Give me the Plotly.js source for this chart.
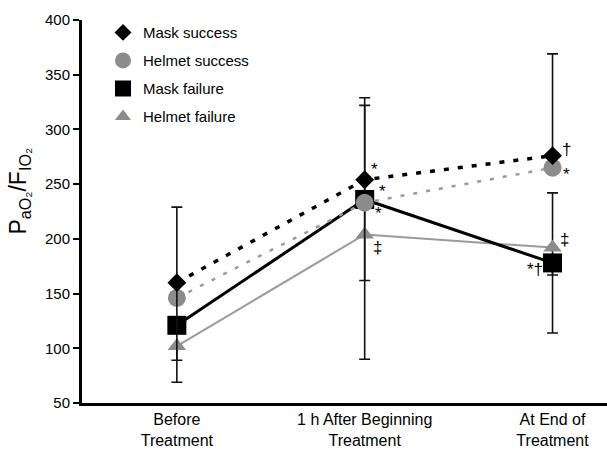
<!DOCTYPE html>
<html>
<head>
<meta charset="utf-8">
<script src="https://cdn.plot.ly/plotly-3.0.1.min.js"></script>
<style>html,body{margin:0;padding:0;background:#fff;}#chart{width:607px;height:449px;}</style>
</head>
<body>
<div id="chart"></div>
<script>
// Data
var categories = ['Before<br>Treatment', '1 h After Beginning<br>Treatment', 'At End of<br>Treatment'];
var seriesNames = ['Mask success', 'Helmet success', 'Mask failure', 'Helmet failure'];
var maskSuccess = [160, 254, 276];
var helmetSuccess = [146, 233, 265];
var maskFailure = [121, 236, 178];
var helmetFailure = [102, 204, 192];
// error bars (only visible whiskers)
var maskSuccessErrPlus = [69, 0, 93];
var maskSuccessErrMinus = [71, 0, 0];
var maskFailureErrPlus = [0, 93, 0];
var maskFailureErrMinus = [0, 74, 11];
var helmetFailureErrPlus = [0, 118, 50];
var helmetFailureErrMinus = [33, 114, 78];
// significance marks
var markText = ['*', '*', '*', '‡', '†', '*', '‡', '*†'];
var markCat = [1, 1, 1, 1, 2, 2, 2, 2];
var markY = [263, 243, 223, 192, 282, 259, 199, 172];
var markShift = [10, 18, 14, 13, 14, 14, 12, -18];
var yTitle = 'P<sub>aO₂</sub>/F<sub>IO₂</sub>';

var gray = '#8c8c8c';
var lineGray = '#9a9a9a';
var xIdx = [0, 1, 2];
var FONT = 'Liberation Sans, Arial, sans-serif';

function errObj(p, m) {
  return {type: 'data', symmetric: false, array: p, arrayminus: m, color: '#111', thickness: 1.6, width: 5.5};
}

var traces = [
  {x: xIdx, y: helmetFailure, mode: 'lines+markers', showlegend: false,
   line: {color: lineGray, width: 2}, marker: {symbol: 'triangle-up', size: 16, color: gray},
   error_y: errObj(helmetFailureErrPlus, helmetFailureErrMinus)},
  {x: xIdx, y: maskFailure, mode: 'lines+markers', showlegend: false,
   line: {color: '#000', width: 3}, marker: {symbol: 'square', size: 19, color: '#000'},
   error_y: errObj(maskFailureErrPlus, maskFailureErrMinus)},
  {x: xIdx, y: helmetSuccess, mode: 'lines+markers', showlegend: false,
   line: {color: lineGray, width: 2.5, dash: '4px,9px'}, marker: {symbol: 'circle', size: 18, color: gray}},
  {x: xIdx, y: maskSuccess, mode: 'lines+markers', showlegend: false,
   line: {color: '#000', width: 3.5, dash: '5px,9px'}, marker: {symbol: 'diamond', size: 14.5, color: '#000'},
   error_y: errObj(maskSuccessErrPlus, maskSuccessErrMinus)}
];
// legend entries
var legSym = ['diamond', 'circle', 'square', 'triangle-up'];
var legCol = ['#000', gray, '#000', gray];
var legSize = [13, 16, 16, 14];
for (var i = 0; i < 4; i++) {
  traces.push({x: [null], y: [null], mode: 'markers', name: seriesNames[i], legendgroup: 'g' + i,
    marker: {symbol: legSym[i], size: legSize[i], color: legCol[i]}, showlegend: true});
}

var annotations = markText.map(function (t, i) {
  return {x: markCat[i], y: markY[i], xref: 'x', yref: 'y', text: t, showarrow: false,
    xshift: markShift[i], font: {family: FONT, size: 17, color: '#000'}};
});
annotations.push({x: 0, xref: 'paper', xshift: -62, xanchor: 'center', y: 0.552, yref: 'paper', yanchor: 'middle',
  text: yTitle, textangle: -90, showarrow: false, font: {family: FONT, size: 23, color: '#000'}});

var layout = {
  width: 607, height: 449,
  margin: {l: 82, r: 0, t: 20, b: 46},
  paper_bgcolor: '#fff', plot_bgcolor: '#fff',
  font: {family: FONT, color: '#000'},
  showlegend: true,
  legend: {x: 0.04, y: 1.01, xanchor: 'left', yanchor: 'top', tracegroupgap: 5.5,
    font: {size: 15, color: '#000'}, bgcolor: 'rgba(0,0,0,0)'},
  xaxis: {range: [-0.505, 2.29], tickvals: xIdx, ticktext: categories, showgrid: false, zeroline: false,
    showline: true, linecolor: '#000', linewidth: 3, ticks: '', tickfont: {size: 16, color: '#000'}},
  yaxis: {range: [50, 400], dtick: 50, showgrid: false, zeroline: false, showline: true,
    linecolor: '#000', linewidth: 3, ticks: 'outside', ticklen: 6, tickwidth: 2, tickcolor: '#000',
    tickfont: {size: 15, color: '#000'}},
  annotations: annotations
};

Plotly.newPlot('chart', traces, layout, {displayModeBar: false, staticPlot: true});
</script>
</body>
</html>
